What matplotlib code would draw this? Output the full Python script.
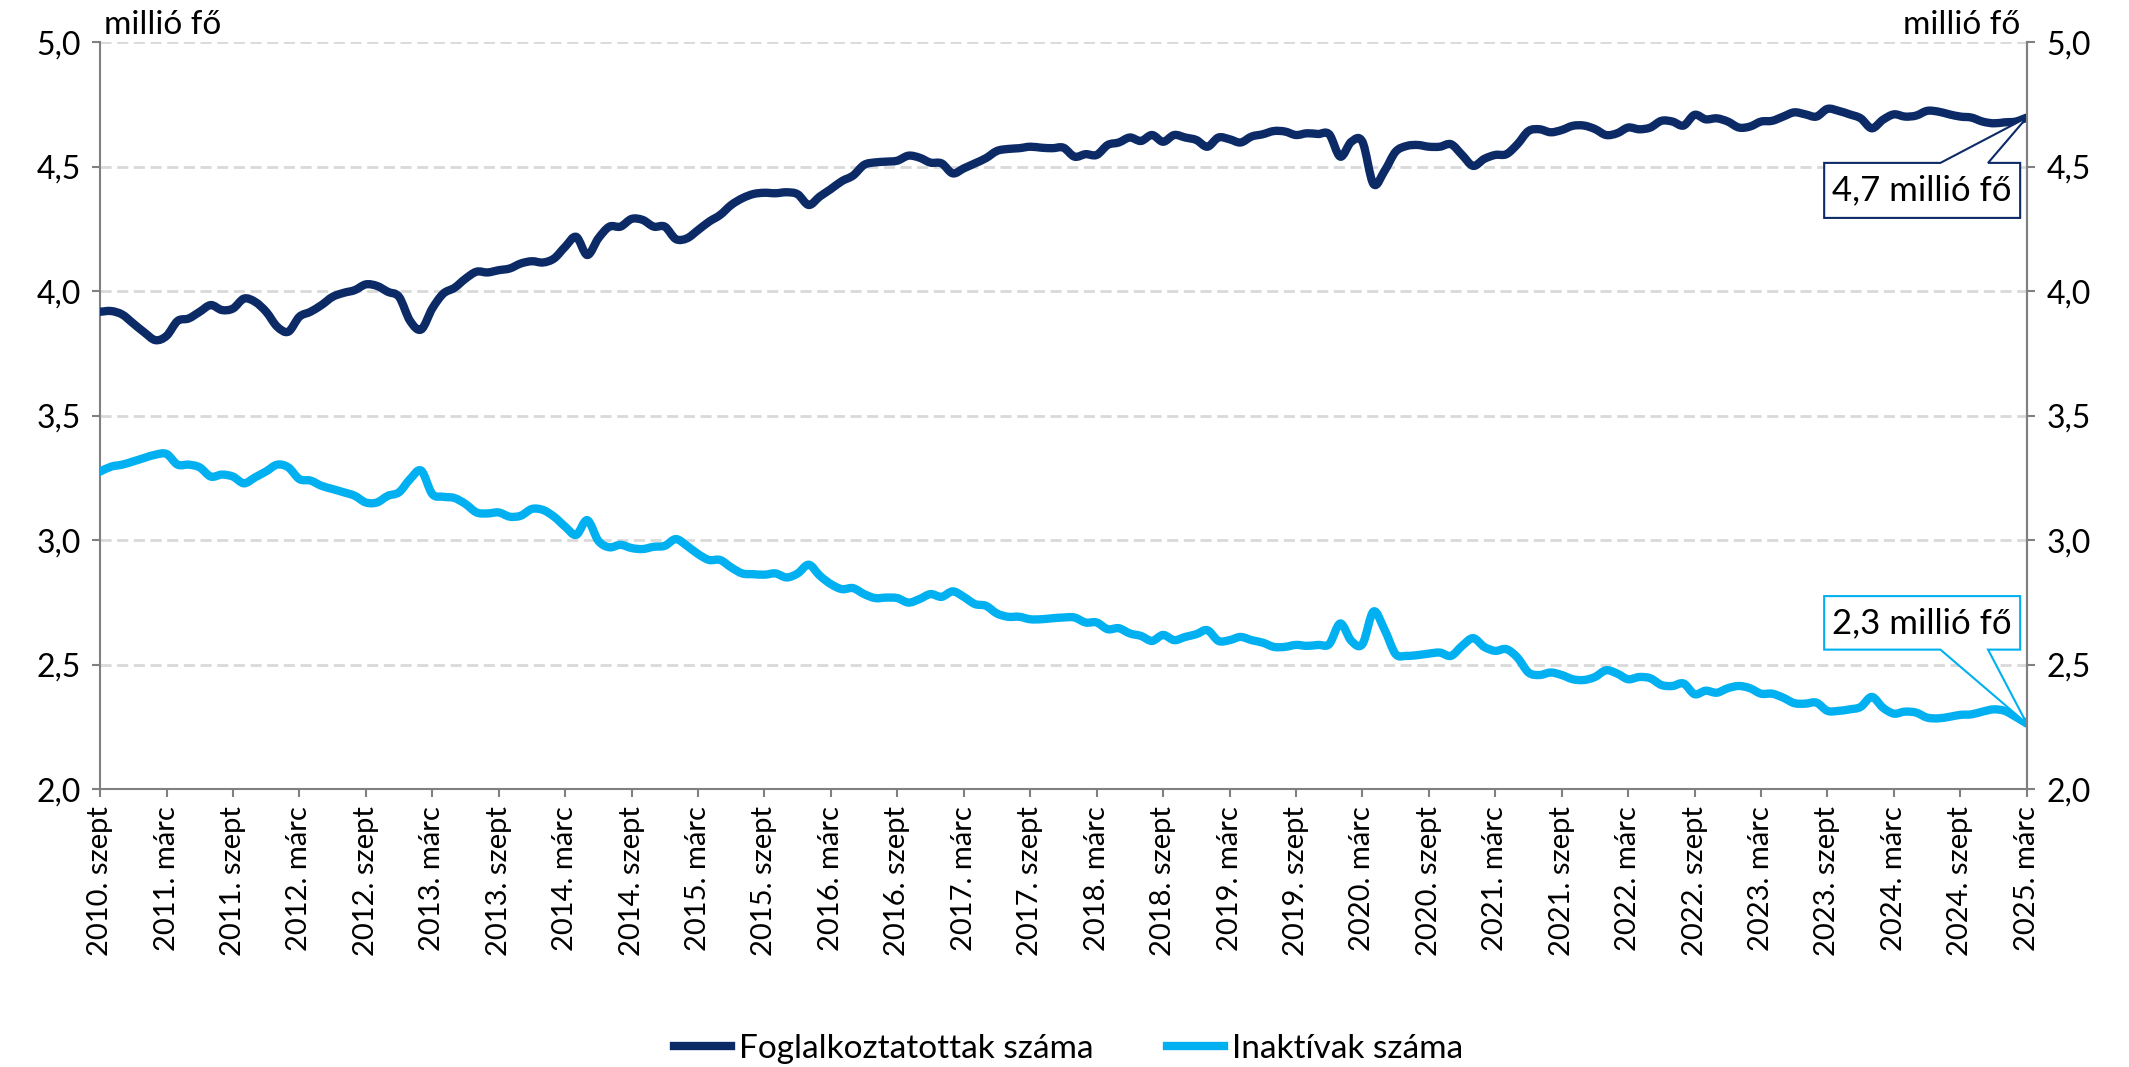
import matplotlib
matplotlib.use("Agg")
import matplotlib.pyplot as plt
from matplotlib.ticker import FuncFormatter, MultipleLocator
from matplotlib.patches import Polygon, PathPatch
from matplotlib.path import Path
from matplotlib.lines import Line2D

plt.rcParams['font.family'] = ['Lato', 'DejaVu Sans']

tick_labels = [
    "2010. szept", "2011. márc", "2011. szept", "2012. márc", "2012. szept",
    "2013. márc", "2013. szept", "2014. márc", "2014. szept", "2015. márc",
    "2015. szept", "2016. márc", "2016. szept", "2017. márc", "2017. szept",
    "2018. márc", "2018. szept", "2019. márc", "2019. szept", "2020. márc",
    "2020. szept", "2021. márc", "2021. szept", "2022. márc", "2022. szept",
    "2023. márc", "2023. szept", "2024. márc", "2024. szept", "2025. márc",
]

foglalkoztatottak = [
    3.917, 3.920, 3.906, 3.870, 3.834, 3.803, 3.820, 3.880, 3.890, 3.917,
    3.944, 3.924, 3.930, 3.970, 3.957, 3.917, 3.857, 3.837, 3.897, 3.917,
    3.944, 3.977, 3.993, 4.004, 4.027, 4.021, 3.997, 3.977, 3.880, 3.846,
    3.930, 3.990, 4.013, 4.050, 4.078, 4.075, 4.084, 4.091, 4.111, 4.120,
    4.115, 4.131, 4.178, 4.218, 4.145, 4.212, 4.259, 4.259, 4.290, 4.286,
    4.259, 4.259, 4.209, 4.212, 4.245, 4.279, 4.306, 4.346, 4.373, 4.390,
    4.395, 4.393, 4.397, 4.389, 4.346, 4.380, 4.410, 4.442, 4.464, 4.507,
    4.517, 4.520, 4.524, 4.544, 4.536, 4.516, 4.513, 4.473, 4.493, 4.513,
    4.534, 4.563, 4.571, 4.574, 4.580, 4.576, 4.574, 4.576, 4.540, 4.550,
    4.547, 4.587, 4.597, 4.617, 4.603, 4.627, 4.600, 4.627, 4.617, 4.607,
    4.580, 4.617, 4.610, 4.597, 4.621, 4.630, 4.643, 4.641, 4.627, 4.634,
    4.631, 4.630, 4.540, 4.600, 4.600, 4.430, 4.483, 4.560, 4.583, 4.587,
    4.580, 4.580, 4.590, 4.547, 4.503, 4.531, 4.547, 4.550, 4.590, 4.643,
    4.650, 4.638, 4.647, 4.664, 4.665, 4.651, 4.627, 4.634, 4.657, 4.650,
    4.657, 4.684, 4.681, 4.665, 4.708, 4.690, 4.694, 4.681, 4.657, 4.661,
    4.681, 4.684, 4.701, 4.718, 4.710, 4.701, 4.732, 4.724, 4.710, 4.694,
    4.654, 4.688, 4.710, 4.701, 4.705, 4.724, 4.721, 4.710, 4.701, 4.697,
    4.681, 4.674, 4.678, 4.681, 4.697,
]

inaktivak = [
    3.275, 3.295, 3.303, 3.316, 3.330, 3.343, 3.346, 3.303, 3.303, 3.292,
    3.255, 3.263, 3.255, 3.228, 3.252, 3.276, 3.303, 3.292, 3.245, 3.239,
    3.218, 3.205, 3.192, 3.178, 3.151, 3.151, 3.178, 3.192, 3.245, 3.279,
    3.185, 3.174, 3.169, 3.145, 3.111, 3.107, 3.111, 3.094, 3.098, 3.125,
    3.121, 3.094, 3.054, 3.021, 3.080, 2.997, 2.971, 2.981, 2.968, 2.964,
    2.973, 2.977, 3.004, 2.977, 2.944, 2.920, 2.920, 2.890, 2.866, 2.863,
    2.861, 2.866, 2.850, 2.866, 2.901, 2.857, 2.823, 2.803, 2.807, 2.783,
    2.767, 2.769, 2.767, 2.749, 2.763, 2.783, 2.772, 2.794, 2.772, 2.743,
    2.736, 2.705, 2.692, 2.692, 2.682, 2.682, 2.686, 2.689, 2.689, 2.669,
    2.669, 2.642, 2.646, 2.625, 2.615, 2.595, 2.619, 2.598, 2.611, 2.622,
    2.638, 2.595, 2.598, 2.611, 2.598, 2.588, 2.571, 2.571, 2.579, 2.575,
    2.579, 2.582, 2.665, 2.595, 2.582, 2.713, 2.640, 2.542, 2.535, 2.538,
    2.544, 2.548, 2.535, 2.575, 2.606, 2.571, 2.555, 2.562, 2.528, 2.468,
    2.458, 2.468, 2.458, 2.441, 2.438, 2.450, 2.477, 2.464, 2.441, 2.450,
    2.445, 2.418, 2.414, 2.424, 2.381, 2.395, 2.387, 2.405, 2.414, 2.405,
    2.383, 2.383, 2.367, 2.345, 2.343, 2.347, 2.314, 2.314, 2.320, 2.330,
    2.370, 2.327, 2.303, 2.311, 2.307, 2.287, 2.284, 2.290, 2.298, 2.300,
    2.311, 2.320, 2.314, 2.290, 2.263,
]

series_names = ["Foglalkoztatottak száma", "Inaktívak száma"]
colors = ["#0B2A66", "#00B0F0"]
annot_texts = ["4,7 millió fő", "2,3 millió fő"]
unit_label = "millió fő"

n = len(foglalkoztatottak)
x = list(range(n))

fig = plt.figure(figsize=(21.29, 10.67), dpi=100)
ax = fig.add_axes([0.047, 0.2605, 0.905, 0.7000])

fmt = FuncFormatter(lambda v, p: f"{v:.1f}".replace('.', ','))
FS_X = 21
FS_Y = 23
FS_LEG = 24
FS_ANN = 25
FS_UNIT = 24
LW = 6

ax.set_xlim(0, n - 1)
ax.set_ylim(2.0, 5.0)
ax.yaxis.set_major_locator(MultipleLocator(0.5))
ax.yaxis.set_major_formatter(fmt)
ax.grid(axis='y', color='#D9D9D9', lw=2, ls=(0, (4, 2)))
ax.set_axisbelow(True)


def smooth_path(xs, ys, t=1.0 / 6.0):
    """Smoothed line (Excel style) as cubic Bezier segments through the data points."""
    verts = [(xs[0], ys[0])]
    codes = [Path.MOVETO]
    m = len(xs)
    for i in range(m - 1):
        p0 = (xs[max(i - 1, 0)], ys[max(i - 1, 0)])
        p1 = (xs[i], ys[i])
        p2 = (xs[i + 1], ys[i + 1])
        p3 = (xs[min(i + 2, m - 1)], ys[min(i + 2, m - 1)])
        c1 = (p1[0] + (p2[0] - p0[0]) * t, p1[1] + (p2[1] - p0[1]) * t)
        c2 = (p2[0] - (p3[0] - p1[0]) * t, p2[1] - (p3[1] - p1[1]) * t)
        verts += [c1, c2, p2]
        codes += [Path.CURVE4] * 3
    return Path(verts, codes)


for ys, c in zip([foglalkoztatottak, inaktivak], colors):
    patch = PathPatch(smooth_path(x, ys), facecolor='none', edgecolor=c,
                      lw=LW, joinstyle='round', capstyle='round', zorder=3)
    ax.add_patch(patch)

ax.set_xticks(list(range(0, n, 6)))
ax.set_xticklabels(tick_labels, rotation=90, fontsize=FS_X)
ax.tick_params(axis='x', length=6, width=1.5, color='#808080', pad=6)
ax.tick_params(axis='y', length=6, width=1.5, color='#808080', labelsize=FS_Y, pad=8)

ax.spines['top'].set_visible(False)
for s in ['left', 'right', 'bottom']:
    ax.spines[s].set_color('#808080')
    ax.spines[s].set_linewidth(1.5)

ax2 = ax.twinx()
ax2.set_ylim(2.0, 5.0)
ax2.yaxis.set_major_locator(MultipleLocator(0.5))
ax2.yaxis.set_major_formatter(fmt)
ax2.tick_params(axis='y', length=6, width=1.5, color='#808080', labelsize=FS_Y, pad=8)
for s in ['top', 'left', 'bottom']:
    ax2.spines[s].set_visible(False)
ax2.spines['right'].set_color('#808080')
ax2.spines['right'].set_linewidth(1.5)

fig.text(0.049, 0.977, unit_label, fontsize=FS_UNIT, ha='left', va='center')
fig.text(0.949, 0.977, unit_label, fontsize=FS_UNIT, ha='right', va='center')


def callout(tip_x, tip_y, box, notch, top_notch, color, text):
    x0, x1, y0, y1 = box
    nx0, nx1 = notch
    if top_notch:
        pts = [(x0, y0), (x1, y0), (x1, y1), (nx1, y1), (tip_x, tip_y),
               (nx0, y1), (x0, y1)]
    else:
        pts = [(x0, y1), (x1, y1), (x1, y0), (nx1, y0), (tip_x, tip_y),
               (nx0, y0), (x0, y0)]
    poly = Polygon(pts, closed=True, facecolor='white', edgecolor=color,
                   lw=1.5, zorder=5, joinstyle='miter')
    ax.add_patch(poly)
    ax.text((x0 + x1) / 2, (y0 + y1) / 2, text, fontsize=FS_ANN, ha='center',
            va='center', zorder=6, color='black')


callout(n - 1, foglalkoztatottak[-1], (155.7, 173.4, 4.294, 4.515),
        (166.2, 170.5), True, colors[0], annot_texts[0])
callout(n - 1, inaktivak[-1], (155.7, 173.4, 2.560, 2.775),
        (166.2, 170.5), False, colors[1], annot_texts[1])

handles = [Line2D([0], [0], color=c, lw=LW) for c in colors]
fig.legend(handles, series_names, loc='center', ncol=2, frameon=False,
           fontsize=FS_LEG, handlelength=1.7, columnspacing=2.2, handletextpad=0.25,
           bbox_to_anchor=(0.502, 0.017))

fig.savefig("out.png", dpi=100, facecolor='white')
